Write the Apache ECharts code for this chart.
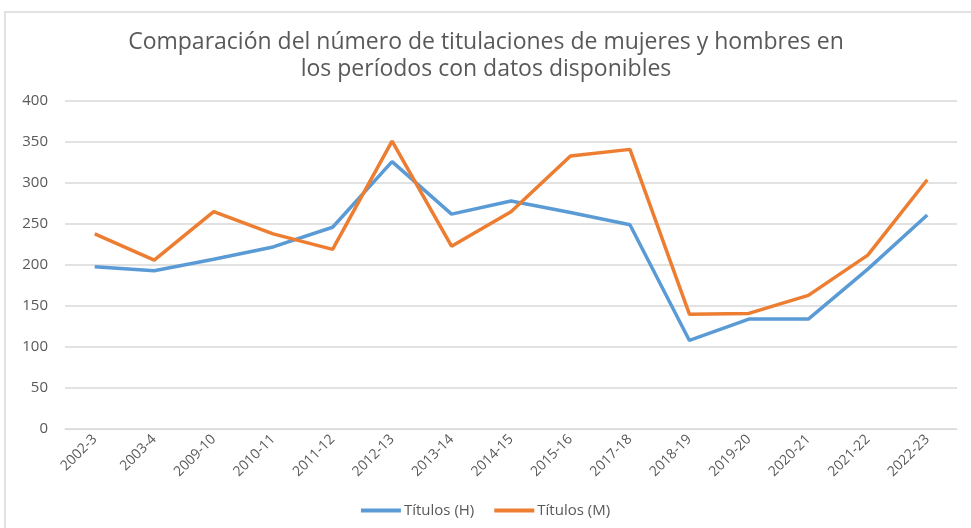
<!DOCTYPE html>
<html>
<head>
<meta charset="utf-8">
<script src="https://cdn.jsdelivr.net/npm/echarts@6/dist/echarts.min.js"></script>
<style>
  html, body { margin: 0; padding: 0; background: #fff; }
  #chart { width: 971px; height: 528px; }
</style>
</head>
<body>
<div id="chart"></div>
<script>
const periods = ['2002-3', '2003-4', '2009-10', '2010-11', '2011-12', '2012-13', '2013-14', '2014-15',
  '2015-16', '2017-18', '2018-19', '2019-20', '2020-21', '2021-22', '2022-23'];
const titulosH = [198, 193, 207, 222, 246, 326, 262, 278, 264, 249, 108, 134, 134, 195, 261];
const titulosM = [238, 206, 265, 238, 219, 351, 223, 265, 333, 341, 140, 141, 163, 212, 304];
const yTicks = [0, 50, 100, 150, 200, 250, 300, 350, 400];

const chart = echarts.init(document.getElementById('chart'));
const txt = '#595959';
const font = 'Open Sans';

chart.setOption({
  animation: false,
  textStyle: { fontFamily: font },
  graphic: [{
    type: 'rect',
    shape: { x: 5, y: 12, width: 980, height: 530 },
    style: { fill: 'none', stroke: '#d9d9d9', lineWidth: 1.5 },
    silent: true
  }],
  title: {
    text: 'Comparación del número de titulaciones de mujeres y hombres en\nlos períodos con datos disponibles',
    left: 481,
    textAlign: 'center',
    top: 24,
    textStyle: { color: txt, fontSize: 23, fontWeight: 'normal', lineHeight: 27, fontFamily: font }
  },
  legend: {
    bottom: 5,
    left: 'center',
    itemWidth: 40,
    itemHeight: 4,
    itemGap: 20,
    icon: 'rect',
    textStyle: { color: txt, fontSize: 15, fontFamily: font, padding: [0, 0, 0, -2] },
    data: ['Títulos (H)', 'Títulos (M)']
  },
  grid: { left: 65, right: 14, top: 101, bottom: 99, containLabel: false },
  xAxis: {
    type: 'category',
    data: periods,
    boundaryGap: true,
    axisLine: { lineStyle: { color: '#d9d9d9' } },
    axisTick: { show: false },
    axisLabel: { rotate: 45, color: txt, fontSize: 14, margin: 8, interval: 0, fontFamily: font }
  },
  yAxis: {
    type: 'value',
    min: yTicks[0],
    max: yTicks[yTicks.length - 1],
    interval: 50,
    axisLine: { show: false },
    axisTick: { show: false },
    axisLabel: { color: txt, fontSize: 15, margin: 17, fontFamily: font },
    splitLine: { lineStyle: { color: '#d9d9d9', width: 1.5 } }
  },
  series: [
    {
      name: 'Títulos (H)',
      type: 'line',
      data: titulosH,
      symbol: 'none',
      lineStyle: { color: '#5B9BD5', width: 3.5 },
      itemStyle: { color: '#5B9BD5' }
    },
    {
      name: 'Títulos (M)',
      type: 'line',
      data: titulosM,
      symbol: 'none',
      lineStyle: { color: '#ED7D31', width: 3.5 },
      itemStyle: { color: '#ED7D31' }
    }
  ]
});
</script>
</body>
</html>
